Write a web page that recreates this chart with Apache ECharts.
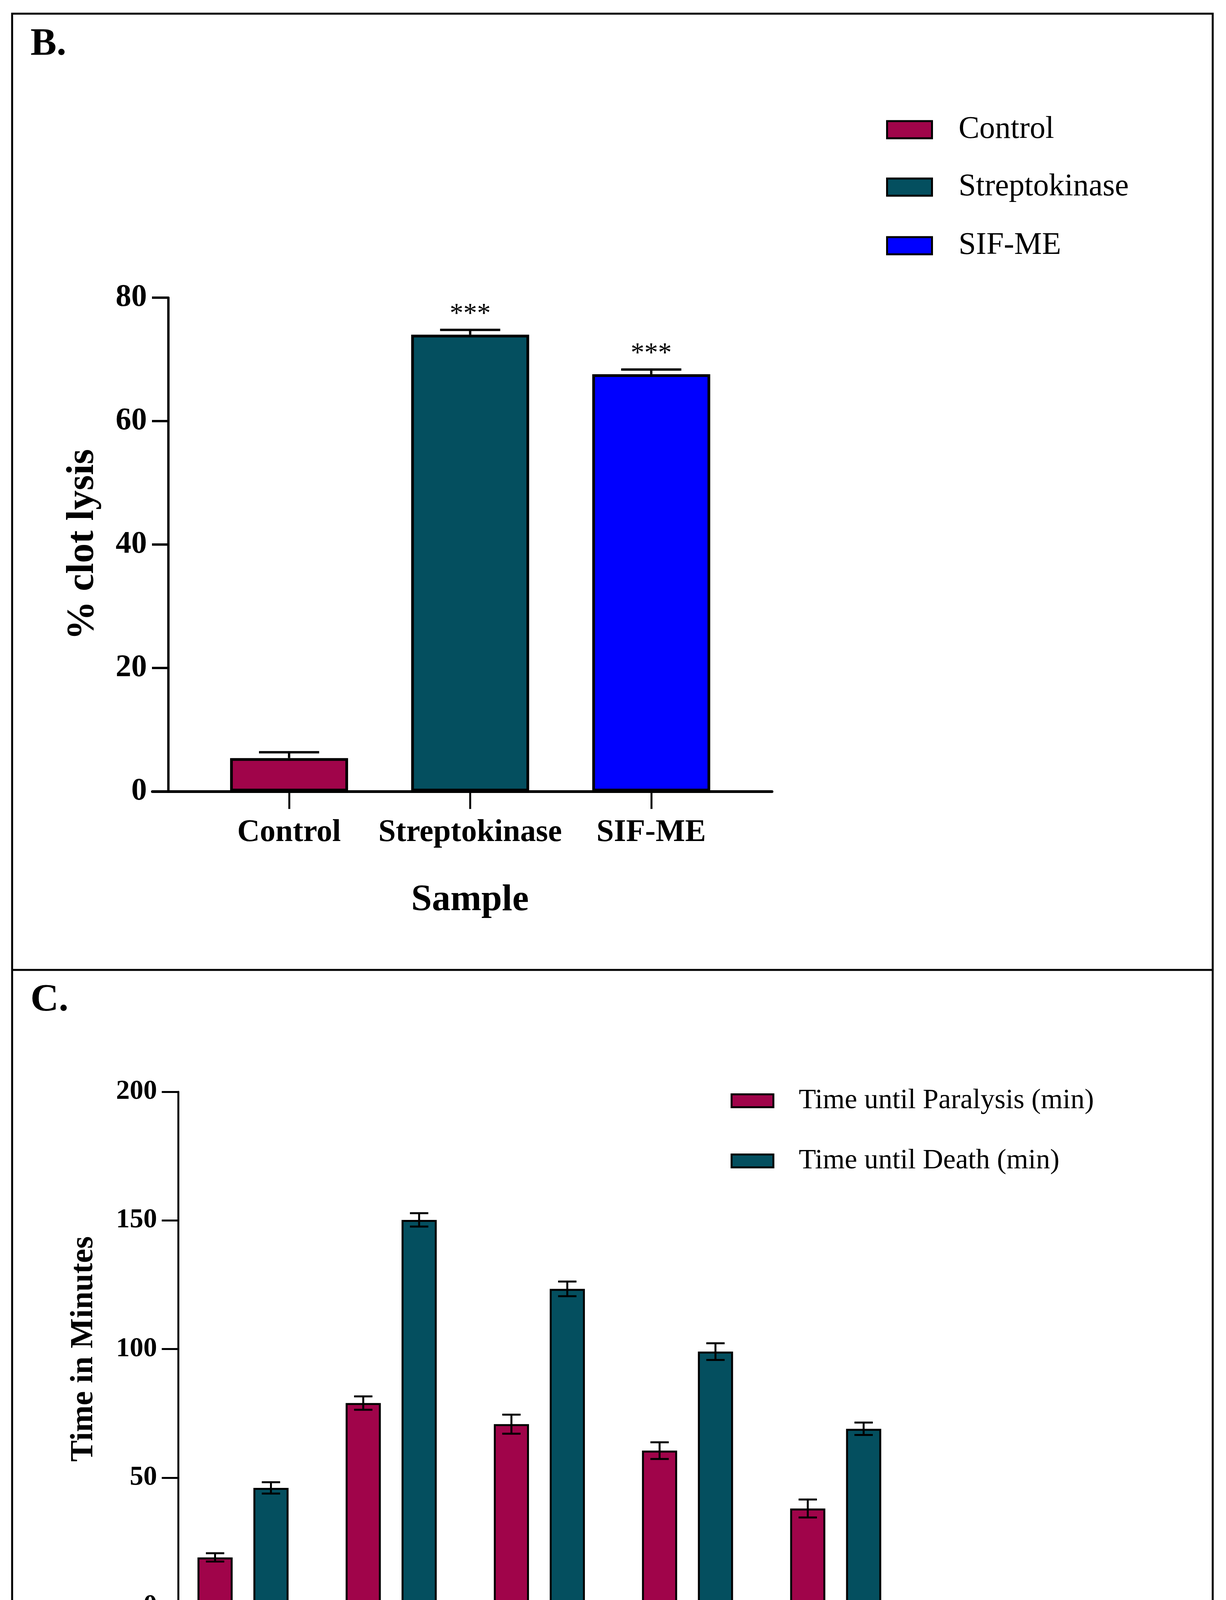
<!DOCTYPE html>
<html>
<head>
<meta charset="utf-8">
<script src="https://cdn.jsdelivr.net/npm/echarts@6/dist/echarts.min.js"></script>
<style>
html,body{margin:0;padding:0;background:#fff;}
#main{width:3138px;height:4831px;}
</style>
</head>
<body>
<div id="main"></div>
<script>
// ---------- Panel B data ----------
const bCategories = ['Control', 'Streptokinase', 'SIF-ME'];
const bValues = [5.4, 74.0, 67.6];
const bErrors = [0.95, 0.78, 0.76];
const bSignificance = ['', '***', '***'];
const bYTicks = [0, 20, 40, 60, 80];

// ---------- Panel C data ----------
const cCategories = ['Albendazole 10', 'SIF-ME 10', 'SIF-ME 25', 'SIF-ME 50', 'SIF-ME 100'];
const cSeriesNames = ['Time until Paralysis (min)', 'Time until Death (min)'];
const cParalysis = [19.0, 79.0, 70.8, 60.5, 38.0];
const cParalysisErr = [1.6, 2.6, 3.7, 3.25, 3.5];
const cDeath = [46.0, 150.2, 123.4, 99.0, 69.0];
const cDeathErr = [2.2, 2.6, 2.85, 3.25, 2.4];
const cYTicks = [0, 50, 100, 150, 200];

// ---------- styles ----------
const FONT = "'Liberation Serif', 'Times New Roman', serif";
const MAROON = '#A0044A';
const TEAL = '#044F5F';
const BLUE = '#0000FF';
const bColors = [MAROON, TEAL, BLUE];
const cColors = [MAROON, TEAL];

function errorBars(offsetPx, capHalf, lw, upOnly) {
  return function (params, api) {
    const x = api.value(0), y = api.value(1), e = api.value(2);
    const base = api.coord([x, y]);
    const top = api.coord([x, y + e]);
    const bot = api.coord([x, y - e]);
    const cx = base[0] + offsetPx;
    const st = { stroke: '#000', lineWidth: lw };
    const children = [
      { type: 'line', shape: { x1: cx, y1: upOnly ? base[1] : bot[1], x2: cx, y2: top[1] }, style: st },
      { type: 'line', shape: { x1: cx - capHalf, y1: top[1], x2: cx + capHalf, y2: top[1] }, style: st }
    ];
    if (!upOnly) {
      children.push({ type: 'line', shape: { x1: cx - capHalf, y1: bot[1], x2: cx + capHalf, y2: bot[1] }, style: st });
    }
    return { type: 'group', children: children };
  };
}

const chart = echarts.init(document.getElementById('main'));

const series = [];
// Panel B bars
bCategories.forEach(function (name, i) {
  series.push({
    type: 'bar', name: name, xAxisIndex: 0, yAxisIndex: 0,
    barWidth: 302, barGap: '-100%',
    itemStyle: { color: bColors[i], borderColor: '#000', borderWidth: 7 },
    label: {
      show: bSignificance[i] !== '', position: 'top', distance: 16,
      formatter: bSignificance[i], fontFamily: FONT, fontSize: 70, color: '#000'
    },
    data: [[i, bValues[i]]],
    z: 2
  });
});
series.push({
  type: 'custom', name: 'errB', xAxisIndex: 0, yAxisIndex: 0, z: 5,
  renderItem: errorBars(0, 77, 6, true),
  encode: { x: 0, y: 1 },
  data: bValues.map(function (v, i) { return [i, v, bErrors[i]]; })
});

// Panel C bars
const cVals = [cParalysis, cDeath];
const cErrs = [cParalysisErr, cDeathErr];
cSeriesNames.forEach(function (name, s) {
  series.push({
    type: 'bar', name: name, xAxisIndex: 1, yAxisIndex: 1,
    barWidth: 90, barGap: '59%',
    itemStyle: { color: cColors[s], borderColor: '#000', borderWidth: 5 },
    data: cVals[s].map(function (v, i) { return [i, v]; }),
    z: 2
  });
  series.push({
    type: 'custom', name: 'errC' + s, xAxisIndex: 1, yAxisIndex: 1, z: 5,
    renderItem: errorBars(s === 0 ? -71.5 : 71.5, 23.5, 5, false),
    encode: { x: 0, y: 1 },
    data: cVals[s].map(function (v, i) { return [i, v, cErrs[s][i]]; })
  });
});

function legendItem(name, left, top, w, h, fs, pad) {
  return {
    data: [name], left: left, top: top, orient: 'vertical', padding: 0,
    icon: 'rect', itemWidth: w, itemHeight: h,
    itemStyle: { borderColor: '#000', borderWidth: 5 },
    textStyle: { fontFamily: FONT, fontSize: fs, color: '#000', padding: [0, 0, 0, pad] },
    selectedMode: false
  };
}

const option = {
  backgroundColor: '#fff',
  animation: false,
  title: [
    { text: 'B.', left: 78, top: 64, padding: 0, textStyle: { fontFamily: FONT, fontSize: 100, fontWeight: 'bold', color: '#000' } },
    { text: 'C.', left: 78, top: 2511, padding: 0, textStyle: { fontFamily: FONT, fontSize: 100, fontWeight: 'bold', color: '#000' } }
  ],
  legend: [
    legendItem('Control', 2268, 292, 115, 44, 80, 63),
    legendItem('Streptokinase', 2268, 439, 115, 44, 80, 63),
    legendItem('SIF-ME', 2268, 589, 115, 44, 80, 63),
    legendItem(cSeriesNames[0], 1870, 2782, 107, 33, 72, 60),
    legendItem(cSeriesNames[1], 1870, 2936, 107, 33, 72, 60)
  ],
  grid: [
    { left: 390, top: 762, width: 1586, height: 1264 },
    { left: 414, top: 2795, width: 1897, height: 1317 }
  ],
  xAxis: [
    {
      type: 'value', gridIndex: 0, min: -0.755, max: 2.667,
      name: 'Sample', nameLocation: 'middle', nameGap: 232,
      nameTextStyle: { fontFamily: FONT, fontSize: 95, fontWeight: 'bold', color: '#000', padding: [0, 0, 0, 40] },
      axisLine: { onZero: false, lineStyle: { color: '#000', width: 7 } },
      axisTick: { show: true, customValues: [0, 1, 2], length: 45, lineStyle: { color: '#000', width: 5 } },
      axisLabel: {
        customValues: [0, 1, 2], margin: 66,
        formatter: function (v) { return bCategories[Math.round(v)]; },
        fontFamily: FONT, fontSize: 80, fontWeight: 'bold', color: '#000'
      },
      splitLine: { show: false }
    },
    {
      type: 'value', gridIndex: 1, min: -0.5485, max: 4.4536,
      name: 'Concentration (µg/mL)', nameLocation: 'middle', nameGap: 483,
      nameTextStyle: { fontFamily: FONT, fontSize: 82, fontWeight: 'bold', color: '#000', padding: [0, 0, 0, 44] },
      axisLine: { onZero: false, lineStyle: { color: '#000', width: 5 } },
      axisTick: { show: true, customValues: [0, 1, 2, 3, 4], length: 40, lineStyle: { color: '#000', width: 5 } },
      axisLabel: {
        customValues: [0, 1, 2, 3, 4], margin: 100, rotate: 45,
        formatter: function (v) { return cCategories[Math.round(v)]; },
        fontFamily: FONT, fontSize: 70, fontWeight: 'bold', color: '#000'
      },
      splitLine: { show: false }
    }
  ],
  yAxis: [
    {
      type: 'value', gridIndex: 0, min: 0, max: 80, interval: 20, offset: -41,
      name: '% clot lysis', nameLocation: 'middle', nameGap: 169,
      nameTextStyle: { fontFamily: FONT, fontSize: 100, fontWeight: 'bold', color: '#000' },
      axisLine: { show: true, onZero: false, lineStyle: { color: '#000', width: 6 } },
      axisTick: { show: true, length: 42, lineStyle: { color: '#000', width: 6 } },
      axisLabel: { margin: 55, fontFamily: FONT, fontSize: 80, fontWeight: 'bold', color: '#000',
        customValues: bYTicks },
      splitLine: { show: false }
    },
    {
      type: 'value', gridIndex: 1, min: 0, max: 200, interval: 50, offset: -42,
      name: 'Time in Minutes', nameLocation: 'middle', nameGap: 200,
      nameTextStyle: { fontFamily: FONT, fontSize: 82, fontWeight: 'bold', color: '#000' },
      axisLine: { show: true, onZero: false, lineStyle: { color: '#000', width: 5 } },
      axisTick: { show: true, length: 42, lineStyle: { color: '#000', width: 5 } },
      axisLabel: { margin: 54, fontFamily: FONT, fontSize: 70, fontWeight: 'bold', color: '#000',
        customValues: cYTicks },
      splitLine: { show: false }
    }
  ],
  graphic: [
    { type: 'rect', shape: { x: 31, y: 35, width: 3073, height: 4766 }, style: { fill: 'none', stroke: '#000', lineWidth: 5 }, z: 100 },
    { type: 'line', shape: { x1: 31, y1: 2483, x2: 3104, y2: 2483 }, style: { stroke: '#000', lineWidth: 5 }, z: 100 }
  ],
  series: series
};

chart.setOption(option);
</script>
</body>
</html>
